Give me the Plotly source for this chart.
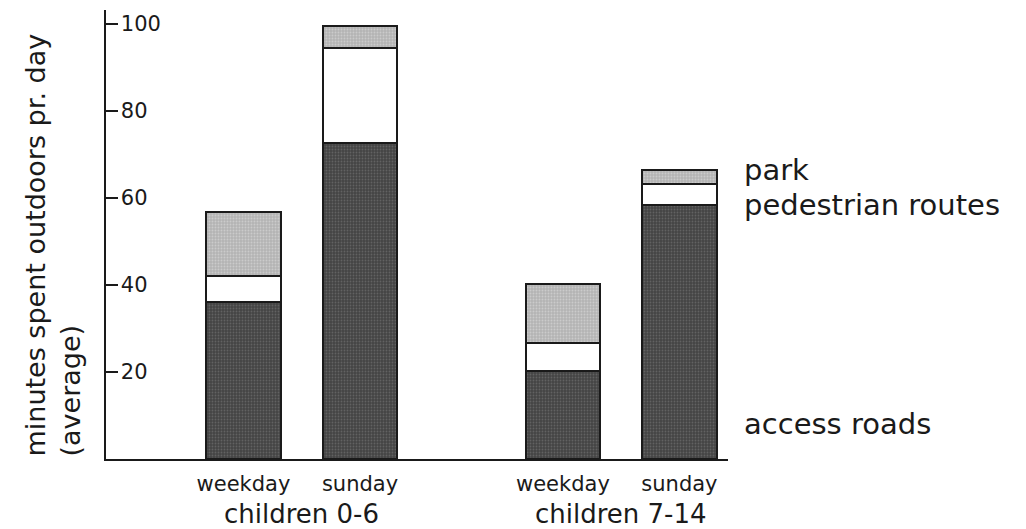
import plotly.graph_objects as go

# ---- data ----
days = ["weekday", "sunday", "weekday", "sunday"]
groups = ["children 0-6", "children 7-14"]
access_roads = [36, 72.6, 20.2, 58.3]
pedestrian_routes = [6, 21.7, 6.4, 4.8]
park = [14.7, 5.1, 13.6, 3.3]
series_names = ["access roads", "pedestrian routes", "park"]
y_ticks = [20, 40, 60, 80, 100]

# layout positions of the bars (group gap larger than in-group spacing)
xpos = [0, 1, 2.742, 3.742]
group_centers = [0.5, 3.242]

FONT = "DejaVu Sans"
INK = "#1a1a1a"

styles = [
    dict(color="#4a4a4a", pattern=dict(shape=".", bgcolor="#444444", fgcolor="#808080", size=3, solidity=0.3)),
    dict(color="#ffffff"),
    dict(color="#c0c0c0", pattern=dict(shape=".", bgcolor="#b4b4b4", fgcolor="#e2e2e2", size=3, solidity=0.3)),
]

fig = go.Figure()
for name, vals, st in zip(series_names, [access_roads, pedestrian_routes, park], styles):
    fig.add_trace(go.Bar(
        x=xpos, y=vals, name=name, width=0.64,
        marker=dict(line=dict(color=INK, width=2), **st),
        showlegend=False,
    ))

# page body has an 8px offset; margins compensate for it
fig.update_layout(
    barmode="stack",
    width=1026, height=529,
    margin=dict(l=98, r=306, t=2, b=78),
    paper_bgcolor="white", plot_bgcolor="white",
    font=dict(family=FONT, color=INK),
    xaxis=dict(
        range=[-1.18, 4.159], showgrid=False, zeroline=False,
        showline=True, linecolor=INK, linewidth=2,
        tickmode="array", tickvals=xpos, ticktext=days,
        ticks="", ticklabelstandoff=5,
        tickfont=dict(size=21, family=FONT, color=INK),
    ),
    yaxis=dict(
        range=[0, 103.1], showgrid=False, zeroline=False,
        showline=True, linecolor=INK, linewidth=2,
        tickmode="array", tickvals=y_ticks, ticktext=[str(v) for v in y_ticks],
        ticks="inside", ticklen=12, tickwidth=2, tickcolor=INK,
        ticklabelposition="inside", ticklabelstandoff=4,
        tickfont=dict(size=21, family=FONT, color=INK),
    ),
)

for gx, gname in zip(group_centers, groups):
    fig.add_annotation(x=gx, xref="x", y=0, yref="paper", yanchor="top",
                       yshift=-38, text=gname, showarrow=False,
                       font=dict(size=26, family=FONT, color=INK))

# series labels on the right
label_y = [8, 58.3, 66.4]
for name, ly in zip(series_names, label_y):
    fig.add_annotation(x=1.0225, xref="paper", y=ly, yref="y", xanchor="left",
                       yanchor="middle", text=name, showarrow=False,
                       font=dict(size=29, family=FONT, color=INK))

# y axis title (two lines, bottom aligned)
fig.add_annotation(x=0, xref="paper", xshift=-54, y=0, yref="paper",
                   yanchor="bottom", xanchor="center", textangle=-90,
                   align="left",
                   text="minutes spent outdoors pr. day<br>(average)",
                   showarrow=False,
                   font=dict(size=27, family=FONT, color=INK))

fig.write_html("out.html")
